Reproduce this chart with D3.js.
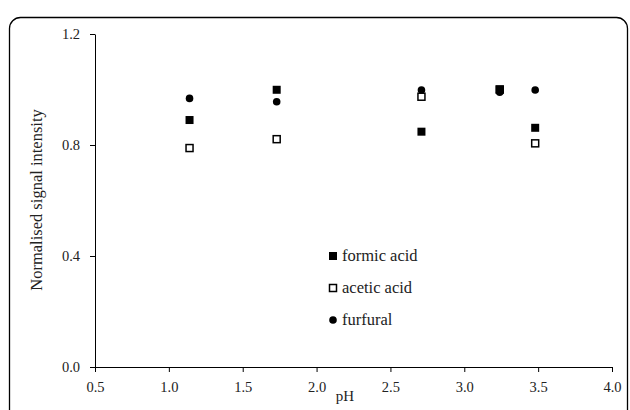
<!DOCTYPE html>
<html>
<head>
<meta charset="utf-8">
<script src="https://cdn.jsdelivr.net/npm/d3@7"></script>
<style>
  body { margin: 0; background: #fff; }
</style>
</head>
<body>
<div id="chart"></div>
<script>

// data
let pH = [1.14, 1.73, 2.71, 3.24, 3.48];
let formic = [0.890, 0.999, 0.848, 1.000, 0.862];
let acetic = [0.789, 0.821, 0.974, 1.000, 0.806];
let furfural = [0.968, 0.956, 0.998, 0.990, 0.998];

let xTicks = [0.5, 1.0, 1.5, 2.0, 2.5, 3.0, 3.5, 4.0];
let yTicks = [0.0, 0.4, 0.8, 1.2];

let serif = "'Liberation Serif', 'Times New Roman', Times, serif";

let svg = d3.select("#chart").append("svg")
    .attr("width", 630)
    .attr("height", 410)
    .attr("font-family", serif);

// outer frame
svg.append("rect")
    .attr("x", 9.5).attr("y", 17.5)
    .attr("width", 618).attr("height", 430)
    .attr("rx", 11).attr("ry", 11)
    .attr("fill", "none")
    .attr("stroke", "#000")
    .attr("stroke-width", 1.3);

let x = d3.scaleLinear().domain([0.5, 4.0]).range([95, 612]);
let y = d3.scaleLinear().domain([0, 1.2]).range([367, 34]);

let xAxis = d3.axisBottom(x)
    .tickValues(xTicks)
    .tickFormat(d3.format(".1f"))
    .tickSize(5)
    .tickSizeOuter(0);

let yAxis = d3.axisLeft(y)
    .tickValues(yTicks)
    .tickFormat(d3.format(".1f"))
    .tickSize(5)
    .tickSizeOuter(0);

let gx = svg.append("g")
    .attr("transform", "translate(0,367)")
    .call(xAxis);

let gy = svg.append("g")
    .attr("transform", "translate(95,0)")
    .call(yAxis);

[gx, gy].forEach(g => {
    g.attr("font-family", serif).attr("font-size", 14.5);
    g.selectAll("path, line").attr("stroke", "#000").attr("stroke-width", 1);
    g.selectAll("text").attr("fill", "#222");
});
gx.selectAll("text").attr("dy", "1.15em");
gy.selectAll("text").attr("x", -15);

// axis titles
svg.append("text")
    .attr("x", 345).attr("y", 401)
    .attr("text-anchor", "middle")
    .attr("font-size", 15)
    .attr("fill", "#222")
    .text("pH");

svg.append("text")
    .attr("transform", "translate(42,200) rotate(-90)")
    .attr("text-anchor", "middle")
    .attr("font-size", 16.5)
    .attr("fill", "#222")
    .text("Normalised signal intensity");

// points: furfural first, then acetic, then formic on top
let sq = 8;

svg.append("g").selectAll("circle")
    .data(pH.map((p, i) => [p, furfural[i]]))
    .join("circle")
    .attr("cx", d => x(d[0]))
    .attr("cy", d => y(d[1]))
    .attr("r", 3.8)
    .attr("fill", "#000");

svg.append("g").selectAll("rect")
    .data(pH.map((p, i) => [p, acetic[i]]))
    .join("rect")
    .attr("x", d => x(d[0]) - sq / 2 + 0.5)
    .attr("y", d => y(d[1]) - sq / 2 + 0.5)
    .attr("width", sq - 1).attr("height", sq - 1)
    .attr("fill", "#fff")
    .attr("stroke", "#000")
    .attr("stroke-width", 1.5);

svg.append("g").selectAll("rect")
    .data(pH.map((p, i) => [p, formic[i]]))
    .join("rect")
    .attr("x", d => x(d[0]) - sq / 2)
    .attr("y", d => y(d[1]) - sq / 2)
    .attr("width", sq).attr("height", sq)
    .attr("fill", "#000");

// legend
let legendItems = ["formic acid", "acetic acid", "furfural"];
let legend = svg.append("g").attr("transform", "translate(333,256)");

legendItems.forEach((name, i) => {
    let row = legend.append("g").attr("transform", "translate(0," + (i * 32) + ")");
    if (i == 0) {
        row.append("rect").attr("x", -4).attr("y", -4).attr("width", 8).attr("height", 8).attr("fill", "#000");
    } else if (i == 1) {
        row.append("rect").attr("x", -3.5).attr("y", -3.5).attr("width", 7).attr("height", 7)
            .attr("fill", "#fff").attr("stroke", "#000").attr("stroke-width", 1.5);
    } else {
        row.append("circle").attr("r", 3.8).attr("fill", "#000");
    }
    row.append("text")
        .attr("x", 9).attr("y", 5)
        .attr("font-size", 16.5)
        .attr("fill", "#222")
        .text(name);
});

</script>
</body>
</html>
